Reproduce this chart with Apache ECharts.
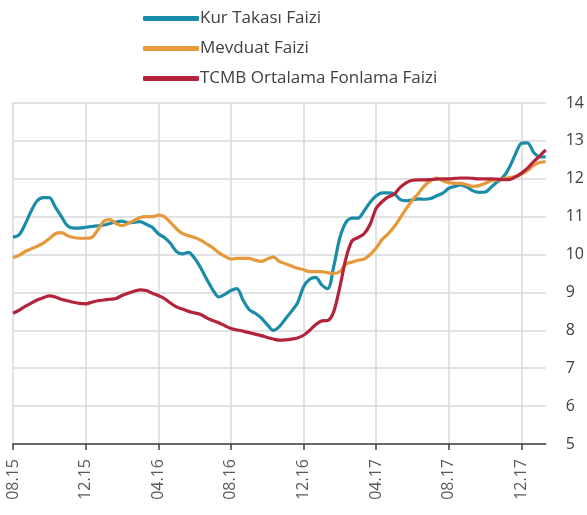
<!DOCTYPE html>
<html>
<head>
<meta charset="utf-8">
<script src="https://cdn.jsdelivr.net/npm/echarts@6/dist/echarts.min.js"></script>
<style>
  html, body { margin: 0; padding: 0; background: #fff; }
  #chart { width: 587px; height: 515px; }
</style>
</head>
<body>
<div id="chart"></div>
<script>
// 3 okuma / ay, 08.15 - 01.18
const startMonth = 8
const startYear = 15
const perMonth = 3
const tickEvery = 12 // her 4 ayda bir etiket

const kurTakasi = [
  10.46, 10.52, 10.8, 11.15, 11.42, 11.5, 11.5, 11.25, 11.0, 10.76,
  10.7, 10.7, 10.72, 10.74, 10.76, 10.78, 10.82, 10.86, 10.88, 10.84,
  10.85, 10.87, 10.8, 10.72, 10.55, 10.45, 10.3, 10.08, 10.02, 10.06,
  9.9, 9.65, 9.35, 9.07, 8.88, 8.95, 9.05, 9.1, 8.8, 8.55,
  8.45, 8.33, 8.15, 8.0, 8.1, 8.3, 8.5, 8.72, 9.15, 9.35,
  9.4, 9.2, 9.1, 9.7, 10.45, 10.85, 10.96, 10.96, 11.15, 11.38,
  11.55, 11.63, 11.63, 11.6, 11.45, 11.42, 11.44, 11.47, 11.46, 11.48,
  11.55, 11.62, 11.75, 11.8, 11.84, 11.78, 11.68, 11.64, 11.65, 11.78,
  11.92, 12.05, 12.3, 12.65, 12.94, 12.95, 12.7, 12.58, 12.58
]
const mevduat = [
  9.92, 9.98, 10.08, 10.15, 10.22, 10.3, 10.42, 10.55, 10.58, 10.5,
  10.45, 10.43, 10.43, 10.45, 10.65, 10.88, 10.92, 10.82, 10.76, 10.82,
  10.9, 10.98, 11.0, 11.0, 11.04, 11.0, 10.85, 10.68, 10.55, 10.5,
  10.45, 10.38, 10.28, 10.18, 10.05, 9.95, 9.88, 9.9, 9.9, 9.9,
  9.85, 9.82, 9.88, 9.94, 9.82, 9.76, 9.7, 9.64, 9.6, 9.55,
  9.55, 9.55, 9.52, 9.5, 9.55, 9.75, 9.8, 9.85, 9.88, 10.0,
  10.17, 10.4, 10.55, 10.74, 10.98, 11.22, 11.44, 11.62, 11.82, 11.95,
  12.02, 11.95, 11.9, 11.88, 11.88, 11.84, 11.8, 11.82, 11.88, 11.95,
  11.97, 12.0, 12.03, 12.06, 12.12, 12.22, 12.35, 12.43, 12.45
]
const tcmbFonlama = [
  8.45, 8.53, 8.63, 8.72, 8.8, 8.86, 8.91, 8.88, 8.82, 8.78,
  8.74, 8.71, 8.7, 8.74, 8.78, 8.8, 8.82, 8.84, 8.92, 8.98,
  9.03, 9.07, 9.05, 8.98, 8.92, 8.84, 8.72, 8.62, 8.56, 8.5,
  8.46, 8.42, 8.33, 8.26, 8.2, 8.12, 8.05, 8.01, 7.98, 7.94,
  7.9, 7.86, 7.81, 7.77, 7.74, 7.75, 7.77, 7.8, 7.87, 8.0,
  8.15, 8.25, 8.26, 8.5, 9.15, 9.9, 10.36, 10.45, 10.55, 10.8,
  11.22, 11.4, 11.52, 11.6, 11.78, 11.9, 11.96, 11.97, 11.97, 11.98,
  11.99, 12.0, 12.0, 12.01, 12.02, 12.02, 12.01, 12.0, 12.0, 12.0,
  11.99, 11.98, 11.98, 12.05, 12.15, 12.28, 12.45, 12.6, 12.76
]

// kategori: "gün.ay.yıl"
const days = ['01', '11', '21']
const categories = []
for (let i = 0; i < kurTakasi.length; i++) {
  const m0 = startMonth - 1 + Math.floor(i / perMonth)
  const mm = String((m0 % 12) + 1).padStart(2, '0')
  const yy = String(startYear + Math.floor(m0 / 12))
  categories.push(days[i % perMonth] + '.' + mm + '.' + yy)
}

const chart = echarts.init(document.getElementById('chart'))
const font = 'Open Sans'
const textColor = '#404040'

const option = {
  animation: false,
  legend: {
    orient: 'vertical',
    left: 138,
    top: 5,
    itemWidth: 56,
    itemHeight: 5,
    itemGap: 13,
    icon: 'roundRect',
    textStyle: { fontFamily: font, fontSize: 17, color: textColor, padding: [0, 0, 0, -4] },
    data: ['Kur Takası Faizi', 'Mevduat Faizi', 'TCMB Ortalama Fonlama Faizi'],
  },
  grid: {
    left: 13,
    right: 40,
    top: 103,
    bottom: 71,
  },
  xAxis: {
    type: 'category',
    boundaryGap: false,
    data: categories,
    axisLine: { lineStyle: { color: '#404040', width: 1.5 } },
    axisTick: {
      interval: tickEvery - 1,
      length: 6,
      lineStyle: { color: '#404040', width: 1.5 },
    },
    axisLabel: {
      interval: tickEvery - 1,
      rotate: 90,
      margin: 15,
      fontFamily: font,
      fontSize: 16,
      color: '#595959',
      formatter: (v) => v.slice(3),
    },
    splitLine: {
      show: true,
      interval: tickEvery - 1,
      lineStyle: { color: '#d9d9d9', width: 1.5 },
    },
  },
  yAxis: {
    type: 'value',
    position: 'right',
    min: 5,
    max: 14,
    interval: 1,
    axisLine: { show: false },
    axisTick: { show: false },
    axisLabel: {
      margin: 20,
      fontFamily: font,
      fontSize: 16,
      color: textColor,
    },
    splitLine: { lineStyle: { color: '#d9d9d9', width: 1.5 } },
  },
  series: [
    {
      name: 'Kur Takası Faizi',
      type: 'line',
      data: kurTakasi,
      showSymbol: false,
      smooth: 0.3,
      color: '#1a8ca8',
      lineStyle: { width: 3.2 },
    },
    {
      name: 'Mevduat Faizi',
      type: 'line',
      data: mevduat,
      showSymbol: false,
      smooth: 0.3,
      color: '#e6993a',
      lineStyle: { width: 3.2 },
    },
    {
      name: 'TCMB Ortalama Fonlama Faizi',
      type: 'line',
      data: tcmbFonlama,
      showSymbol: false,
      smooth: 0.3,
      color: '#b3243a',
      lineStyle: { width: 3.2 },
    },
  ],
}
chart.setOption(option)
</script>
</body>
</html>
